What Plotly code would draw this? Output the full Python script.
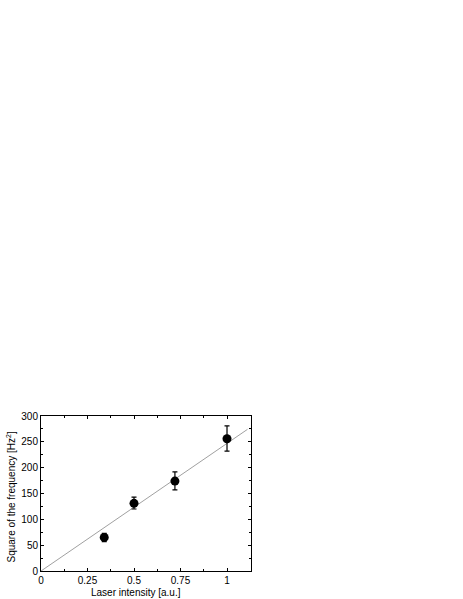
import plotly.graph_objects as go

intensity = [0.34, 0.5, 0.72, 1.0]
freq_sq = [65, 131, 174, 256]
err_plus = [8, 12, 18, 25]
err_minus = [8, 11, 17, 24]

fit_x = [0.0, 1.11]
fit_slope = 247
fit_y = [fit_slope * v for v in fit_x]

x_ticks = [0, 0.25, 0.5, 0.75, 1]
x_tick_labels = ["0", "0.25", "0.5", "0.75", "1"]
y_ticks = [0, 50, 100, 150, 200, 250, 300]

x_title = "Laser intensity [a.u.]"
y_title = "Square of the frequency [Hz<sup>2</sup>]"

FONT = dict(family="Liberation Sans, Arial", size=10, color="black")

fig = go.Figure()
fig.add_trace(go.Scatter(x=fit_x, y=fit_y, mode="lines",
                         line=dict(color="#888888", width=0.8),
                         showlegend=False, hoverinfo="skip"))
fig.add_trace(go.Scatter(x=intensity, y=freq_sq, mode="markers",
                         marker=dict(color="black", size=9),
                         error_y=dict(type="data", array=err_plus, arrayminus=err_minus,
                                      color="black", thickness=1.2, width=2.5),
                         showlegend=False))

axis_common = dict(showgrid=False, zeroline=False, showline=True, linecolor="black",
                   linewidth=1, mirror="allticks", ticks="inside", ticklen=3,
                   tickcolor="black", tickfont=FONT, automargin=False,
                   minor=dict(ticks="inside", ticklen=2, tickcolor="black"))

fig.update_xaxes(range=[0, 1.129], tickvals=x_ticks, ticktext=x_tick_labels,
                 minor_dtick=0.125, **axis_common)
fig.update_yaxes(range=[0, 300], tickvals=y_ticks, minor_dtick=25, **axis_common)

fig.add_annotation(text=x_title, xref="paper", yref="paper", x=0.5, y=0,
                   xanchor="center", yanchor="middle", xshift=-10, yshift=-21,
                   showarrow=False, font=FONT)
fig.add_annotation(text=y_title, xref="paper", yref="paper", x=0, y=0.5,
                   xanchor="center", yanchor="middle", xshift=-31, yshift=-4,
                   textangle=-90, showarrow=False, font=FONT)

fig.update_layout(width=463, height=599, margin=dict(l=41, r=212, t=416, b=28),
                  plot_bgcolor="white", paper_bgcolor="white")

fig.write_html("out.html", config={"displayModeBar": False},
               post_script="document.body.style.margin='0';document.body.style.overflow='hidden';")
